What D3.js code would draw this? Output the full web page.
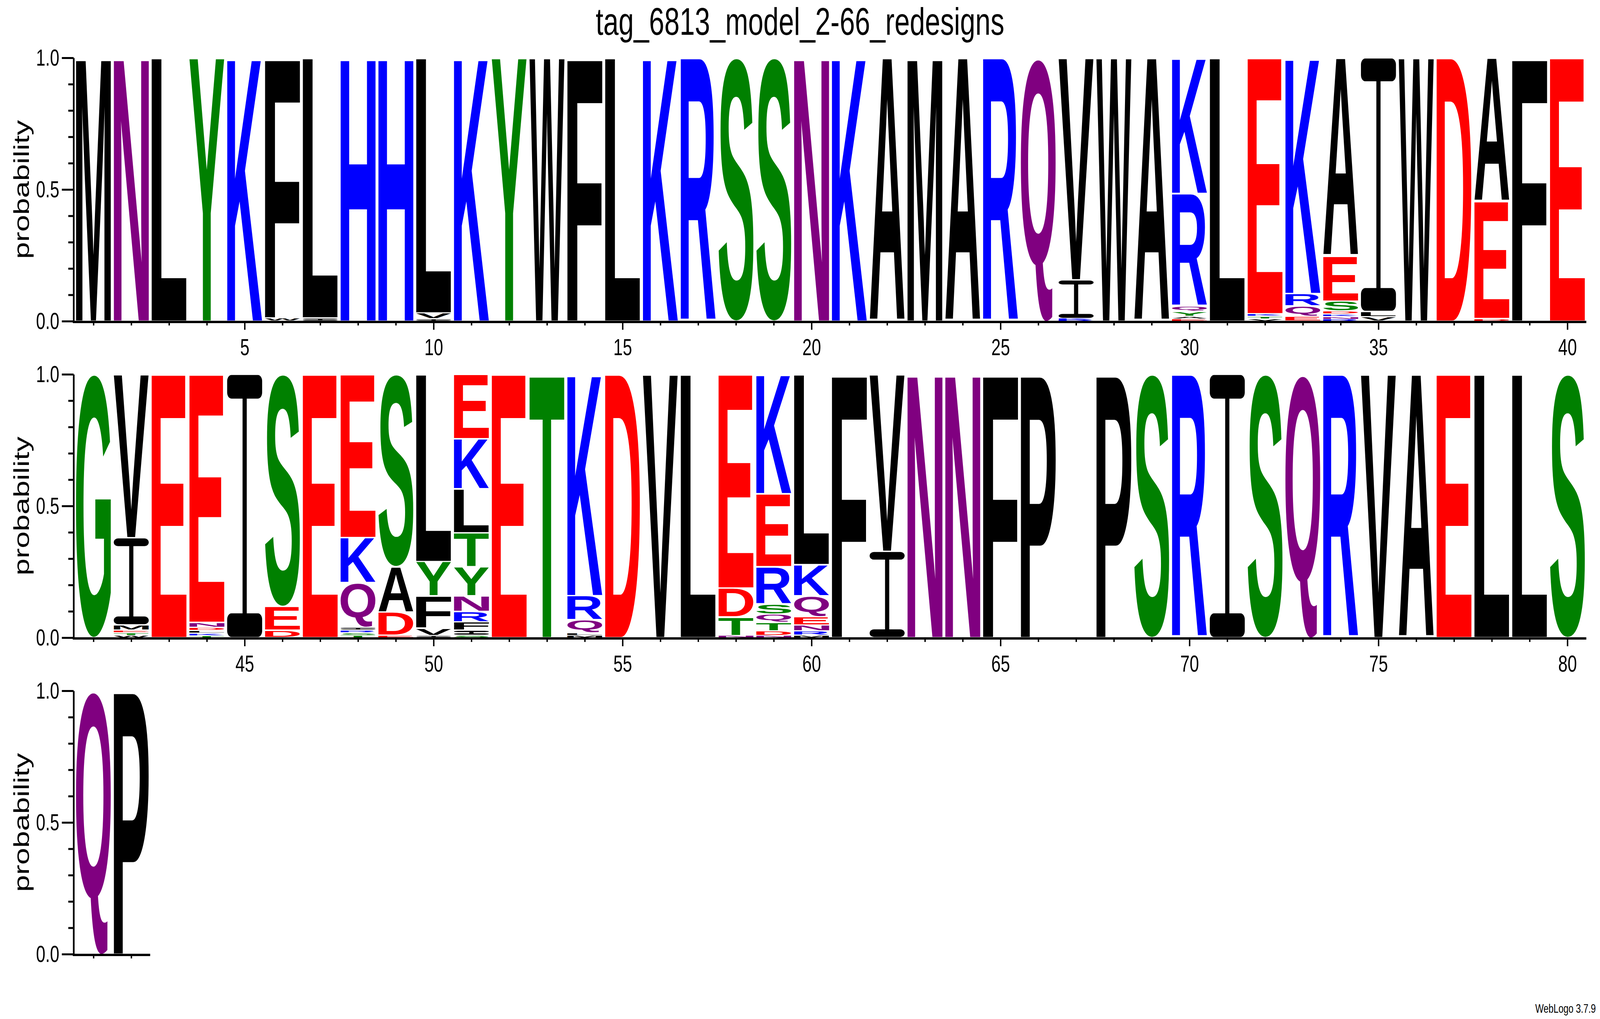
<!DOCTYPE html>
<html>
<head>
<meta charset="utf-8">
<title>tag_6813_model_2-66_redesigns</title>
<script src="https://d3js.org/d3.v7.min.js"></script>
<style>
  html, body { margin: 0; padding: 0; background: #fff; overflow: hidden; }
  #logo svg { display: block; width: 100vw; height: 100vh; }
  text { font-family: "Liberation Sans", Arial, sans-serif; }
</style>
</head>
<body>
<div id="logo"></div>
<script>
// logo data: for each position, letters from top of the stack down, with their probabilities
const title = "tag_6813_model_2-66_redesigns";
const stackLetters = [
  "M", "N", "L", "Y", "K", "FW", "LI", "H", "H", "LVI",
  "K", "Y", "W", "F", "L", "K", "R", "S", "S", "N",
  "K", "A", "M", "A", "R", "Q", "VIKR", "W", "A", "KRQYAE",
  "L", "EKTV", "KRQE", "AESDKNR", "ILV", "W", "D", "AED", "F", "E",
  "G", "VIMETW", "E", "ENDLKT", "I", "SED", "E", "EKQIRST", "SADE", "LYFVI",
  "EKLTYNRFIS", "E", "T", "KRQLM", "D", "V", "L", "EDTN", "KERSQTDN", "LKQENRM",
  "F", "VI", "N", "N", "F", "P", "", "P", "S", "R",
  "I", "S", "Q", "R", "V", "A", "E", "L", "L", "S",
  "Q", "P"
];
const stackProbs = [
  [1], [1], [1], [1], [1], [0.988, 0.012], [0.988, 0.012], [1], [1], [0.969, 0.022, 0.009],
  [1], [1], [1], [1], [1], [1], [1], [1], [1], [1],
  [1], [1], [1], [1], [1], [1], [0.843, 0.147, 0.005, 0.005], [1], [1], [0.515, 0.4275, 0.02, 0.019, 0.01, 0.0085],
  [1], [0.972, 0.0097, 0.0095, 0.0088], [0.895, 0.0475, 0.0395, 0.018], [0.753, 0.171, 0.0375, 0.0118, 0.0097, 0.0092, 0.0078], [0.963, 0.02, 0.017], [1], [1], [0.545, 0.445, 0.01], [1], [1],
  [1], [0.6205, 0.331, 0.0195, 0.0105, 0.01, 0.0085], [1], [0.942, 0.0195, 0.011, 0.0105, 0.0095, 0.0075], [1], [0.8815, 0.09, 0.0285], [1], [0.62, 0.171, 0.1695, 0.011, 0.0105, 0.01, 0.008], [0.7305, 0.172, 0.089, 0.0085], [0.711, 0.13, 0.1224, 0.0282, 0.0084],
  [0.245, 0.19, 0.1673, 0.1289, 0.1092, 0.0596, 0.0405, 0.031, 0.0195, 0.009], [1], [1], [0.8404, 0.0917, 0.0496, 0.0094, 0.0089], [1], [1], [1], [0.8116, 0.1096, 0.0709, 0.0079], [0.4534, 0.2771, 0.1417, 0.0386, 0.0315, 0.0315, 0.0178, 0.0084], [0.7225, 0.1183, 0.0804, 0.0313, 0.0222, 0.0169, 0.0084],
  [1], [0.672, 0.328], [1], [1], [1], [1], [], [1], [1], [1],
  [1], [1], [1], [1], [1], [1], [1], [1], [1], [1],
  [1], [1]
];
const rowRanges = [[1, 40], [41, 80], [81, 82]];
const yTickValues = [0, 0.1, 0.2, 0.3, 0.4, 0.5, 0.6, 0.7, 0.8, 0.9, 1.0];
const yMajorTicks = [0, 0.5, 1.0];
const xLabelEvery = 5;
const yLabel = "probability";
const credit = "WebLogo 3.7.9";

// chemistry colour scheme
const colorOf = ch => {
  if ("GSTYC".includes(ch)) return "#008000";
  if ("NQ".includes(ch)) return "#800080";
  if ("KRH".includes(ch)) return "#0000ff";
  if ("DE".includes(ch)) return "#ff0000";
  return "#000000";
};

// Set up dimensions (drawn in 5717x2608 units, stretched to the window)
const width = 5717, height = 2608;
const perRow = 40;
const plotLeft = 266.5, colW = 135.04;
const plotTop = 148, plotH = 674, rowStep = 810;
const axisX = 263;
const padX = 5, padY = 1.8;

const svg = d3.select("#logo").append("svg")
    .attr("viewBox", `0 0 ${width} ${height}`)
    .attr("preserveAspectRatio", "none");
svg.append("rect").attr("width", width).attr("height", height).attr("fill", "#fff");

// measure glyph ink boxes so each letter can be stretched to fill its cell
const ctx = document.createElement("canvas").getContext("2d");
const glyphSize = 200;
ctx.font = "bold " + glyphSize + "px 'Liberation Sans'";
const boxCache = {};
function glyphBox(ch) {
    if (!boxCache[ch]) {
        const m = ctx.measureText(ch);
        boxCache[ch] = {l: m.actualBoundingBoxLeft, r: m.actualBoundingBoxRight,
                        a: m.actualBoundingBoxAscent, d: m.actualBoundingBoxDescent};
    }
    return boxCache[ch];
}

function drawGlyph(g, ch, x0, y0, w, h) {
    const color = colorOf(ch);
    if (ch === "I") {
        // weblogo style I with slab serifs
        const slab = Math.min(h / 2, Math.max(h * 0.09, Math.min(h / 3, 10)));
        const stem = w * 0.12;
        const rx = Math.min(16, w * 0.12), ry = Math.min(slab / 2, 16);
        g.append("rect").attr("x", x0).attr("y", y0).attr("width", w).attr("height", slab)
            .attr("rx", rx).attr("ry", ry).attr("fill", color);
        g.append("rect").attr("x", x0).attr("y", y0 + h - slab).attr("width", w).attr("height", slab)
            .attr("rx", rx).attr("ry", ry).attr("fill", color);
        g.append("rect").attr("x", x0 + (w - stem) / 2).attr("y", y0 + slab * 0.5)
            .attr("width", stem).attr("height", Math.max(0, h - slab)).attr("fill", color);
        return;
    }
    const b = glyphBox(ch);
    const sx = w / (b.l + b.r), sy = h / (b.a + b.d);
    g.append("text")
        .attr("transform", `translate(${x0},${y0}) scale(${sx},${sy})`)
        .attr("x", b.l)
        .attr("y", b.a)
        .attr("font-size", glyphSize)
        .attr("font-weight", "bold")
        .attr("fill", color)
        .text(ch);
}

// title
svg.append("text")
    .attr("x", width / 2)
    .attr("y", 89)
    .attr("text-anchor", "middle")
    .attr("font-size", 98)
    .text(title);

rowRanges.forEach(([first, last], ri) => {
    const top = plotTop + ri * rowStep;
    const x = d3.scaleLinear()
        .domain([first - 0.5, first - 0.5 + perRow])
        .range([plotLeft, plotLeft + perRow * colW]);
    const y = d3.scaleLinear().domain([0, 1]).range([top + plotH, top]);
    const g = svg.append("g");

    // stacks
    for (let p = first; p <= last; p++) {
        const letters = stackLetters[p - 1], probs = stackProbs[p - 1];
        let cum = 0;
        for (let i = letters.length - 1; i >= 0; i--) {
            const lo = cum, hi = cum + probs[i];
            cum = hi;
            const pad = Math.min(padY, (y(lo) - y(hi)) * 0.2);
            drawGlyph(g, letters[i], x(p - 0.5) + padX, y(hi) + pad,
                x(p + 0.5) - x(p - 0.5) - 2 * padX, y(lo) - y(hi) - 2 * pad);
        }
    }

    // y axis
    const isMajor = d => yMajorTicks.some(m => Math.abs(m - d) < 1e-6);
    const yAxis = d3.axisLeft(y)
        .tickValues(yTickValues)
        .tickSize(42)
        .tickSizeOuter(0)
        .tickPadding(9)
        .tickFormat(d => isMajor(d) ? d3.format(".1f")(d) : "");
    const ya = g.append("g").attr("transform", `translate(${axisX},0)`).call(yAxis);
    ya.select(".domain").attr("stroke-width", 6);
    ya.selectAll(".tick line")
        .attr("x2", d => isMajor(d) ? -42 : -19)
        .attr("stroke-width", 5);
    ya.selectAll(".tick text")
        .attr("font-size", 60)
        .attr("font-family", "'Liberation Sans', Arial, sans-serif");

    // x axis
    const xa = x.copy().domain([first - 0.5, last + 0.5]).range([x(first - 0.5), x(last + 0.5)]);
    const xAxis = d3.axisBottom(xa)
        .tickValues(d3.range(first, last + 1))
        .tickSize(20)
        .tickSizeOuter(0)
        .tickPadding(22)
        .tickFormat(d => d % xLabelEvery === 0 ? d : "");
    const xg = g.append("g").attr("transform", `translate(0,${y(0) + 2})`).call(xAxis);
    xg.select(".domain")
        .attr("d", `M${axisX - 3},0H${xa(last + 0.5)}`)
        .attr("stroke-width", 6);
    xg.selectAll(".tick line")
        .attr("y2", d => d % xLabelEvery === 0 ? 20 : 9)
        .attr("stroke-width", 5);
    xg.selectAll(".tick text")
        .attr("font-size", 60)
        .attr("font-family", "'Liberation Sans', Arial, sans-serif");

    // axis label
    g.append("text")
        .attr("transform", `translate(103,${top + plotH / 2}) rotate(-90)`)
        .attr("text-anchor", "middle")
        .attr("font-size", 78)
        .text(yLabel);
});

svg.append("text")
    .attr("x", 5702)
    .attr("y", 2592)
    .attr("text-anchor", "end")
    .attr("font-size", 32)
    .text(credit);
</script>
</body>
</html>
